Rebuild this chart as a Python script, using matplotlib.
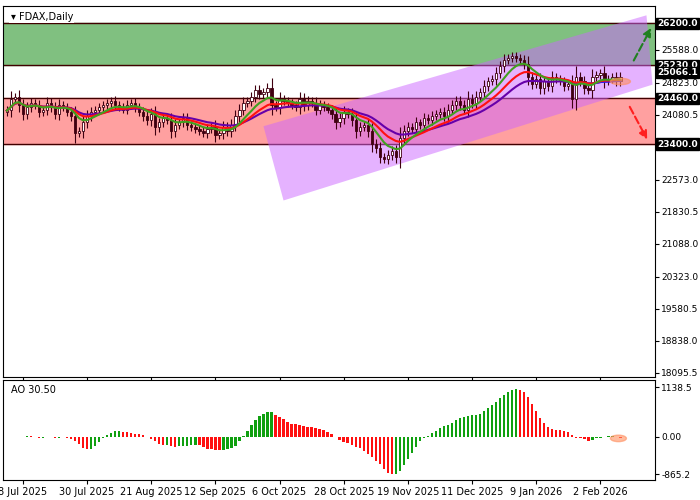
import matplotlib
matplotlib.use("Agg")
import matplotlib.pyplot as plt
import numpy as np
import pandas as pd
from matplotlib.patches import Polygon, Ellipse

closes = [24200,24450,24500,24300,24100,24250,24350,24300,24150,24200,24350,24250,24100,24300,24250,24150,
24050,23650,23700,23900,24050,24150,24200,24250,24300,24350,24400,24300,24250,24200,24300,24350,
24250,24150,24050,23950,24100,23800,23900,24000,23950,23700,23850,23900,24000,23850,23800,23750,
23700,23650,23750,23800,23600,23650,23800,23700,23850,24050,24200,24350,24400,24500,24650,24550,
24600,24700,24300,24250,24450,24400,24350,24300,24250,24450,24300,24400,24350,24200,24300,24250,
24200,24100,23900,24000,24150,24100,23950,23700,23800,23850,23700,23400,23300,23100,23050,23150,
23250,23100,23550,23700,23800,23750,23900,23850,24000,23950,24050,24100,24150,24050,24200,24300,
24400,24300,24200,24450,24350,24500,24600,24750,24850,24900,25050,25200,25350,25400,25450,25400,
25350,25250,24950,24800,24900,24700,24850,24750,24950,24900,24850,24750,24800,24450,24950,24850,
24700,24650,24950,25000,25050,24850,24900,24950,24850,24950]
date_labels = ["8 Jul 2025","30 Jul 2025","21 Aug 2025","12 Sep 2025","6 Oct 2025","28 Oct 2025",
               "19 Nov 2025","11 Dec 2025","9 Jan 2026","2 Feb 2026"]
levels = [26200.0, 25230.0, 24460.0, 23400.0]
current_price = 25066.1
price_ticks = [25588.0,24823.0,24080.5,23338.0,22573.0,21830.5,21088.0,20323.0,19580.5,18838.0,18095.5]
ao_ticks = [1138.5, 0.0, -865.2]
ao_label = "AO 30.50"
channel = [(64, 23813), (69, 22092), (161, 24777), (159.5, 26384)]
up_arrow = [(156, 25280), (161, 26150)]
dn_arrow = [(155, 24320), (160, 23450)]

c = np.array(closes, float)
n = len(c)
o = np.r_[24150, c[:-1]]
rng = np.abs(c - o)
hi = np.maximum(o, c) + 70 + 0.4 * rng
lo = np.minimum(o, c) - 70 - 0.4 * rng
x = np.arange(n)

fig = plt.figure(figsize=(7, 5), dpi=100)
ax = fig.add_axes([0.004, 0.246, 0.931, 0.742])
ax2 = fig.add_axes([0.004, 0.04, 0.931, 0.2], sharex=ax)
for a in (ax, ax2):
    a.yaxis.tick_right()
    a.tick_params(labelsize=6.5, length=3, direction='out', pad=2)
    a.set_xlim(-1, 161.5)

ax.set_ylim(18000, 26600)
ax.axhspan(25230, 26200, color='#80c080', zorder=0)
ax.axhspan(23400, 24460, color='#ffa0a0', zorder=0)
for lv in levels:
    ax.axhline(lv, color='#400000', lw=1, zorder=1)
ax.add_patch(Polygon(channel, closed=True, color='#cc66ff', alpha=0.5, lw=0, zorder=2))

col = '#400010'
for i in range(n):
    ax.vlines(x[i], lo[i], hi[i], color=col, lw=0.8, zorder=3)
    b0, b1 = min(o[i], c[i]), max(o[i], c[i])
    fc = 'white' if c[i] >= o[i] else col
    ax.bar(x[i], max(b1 - b0, 15), bottom=b0, width=0.6, color=fc, edgecolor=col, lw=0.6, zorder=4)

med = pd.Series((hi + lo) / 2)
jaw = med.ewm(span=21).mean()
teeth = med.ewm(span=13).mean()
lips = med.ewm(span=7).mean()
ax.plot(x, jaw, color='#6600aa', lw=1.5, zorder=5)
ax.plot(x[-12:], jaw.values[-12:], color='#2020ff', lw=1.5, zorder=5)
ax.plot(x, teeth, color='#ff1010', lw=1.5, zorder=6)
ax.plot(x, lips, color='#40a020', lw=1.5, zorder=7)
ax.add_patch(Ellipse((n - 1, 24850), 5, 150, color='#ff9060', alpha=0.6, zorder=8))

ax.annotate('', xy=up_arrow[1], xytext=up_arrow[0],
            arrowprops=dict(arrowstyle='-|>', ls='--', color='#208020', lw=1.5, mutation_scale=12))
ax.annotate('', xy=dn_arrow[1], xytext=dn_arrow[0],
            arrowprops=dict(arrowstyle='-|>', ls='--', color='#ff2020', lw=1.5, mutation_scale=12))

ax.set_yticks(price_ticks)
ax.set_yticklabels([f"{v:.1f}" for v in price_ticks])
for lv in levels + [current_price]:
    ax.text(1.004, lv, f"{lv:.1f}", transform=ax.get_yaxis_transform(), fontsize=6.5,
            color='white', va='center', ha='left', fontweight='bold',
            bbox=dict(boxstyle='square,pad=0.12', fc='black', ec='black'), clip_on=False)
ax.text(0.012, 0.985, "\u25BE FDAX,Daily", transform=ax.transAxes, fontsize=7, va='top',
        bbox=dict(fc='white', ec='none', pad=1))
plt.setp(ax.get_xticklabels(), visible=False)

ao = med.rolling(5, min_periods=1).mean() - med.rolling(34, min_periods=1).mean()
ao = ao.values
cols = ['#10a010' if i == 0 or ao[i] >= ao[i - 1] else '#ff1010' for i in range(n)]
ax2.bar(x, ao, width=0.6, color=cols)
ax2.add_patch(Ellipse((n - 1.5, ao[-1]), 4, 150, color='#ff9060', alpha=0.6))
ax2.set_ylim(-1000, 1300)
ax2.set_yticks(ao_ticks)
ax2.set_yticklabels([f"{v:.2f}" if v == 0 else f"{v:.1f}" for v in ao_ticks])
ax2.text(0.012, 0.95, ao_label, transform=ax2.transAxes, fontsize=7, va='top')
ax2.set_xticks([4 + 16 * k for k in range(len(date_labels))])
ax2.set_xticklabels(date_labels, fontsize=7)
fig.savefig("out.png")
